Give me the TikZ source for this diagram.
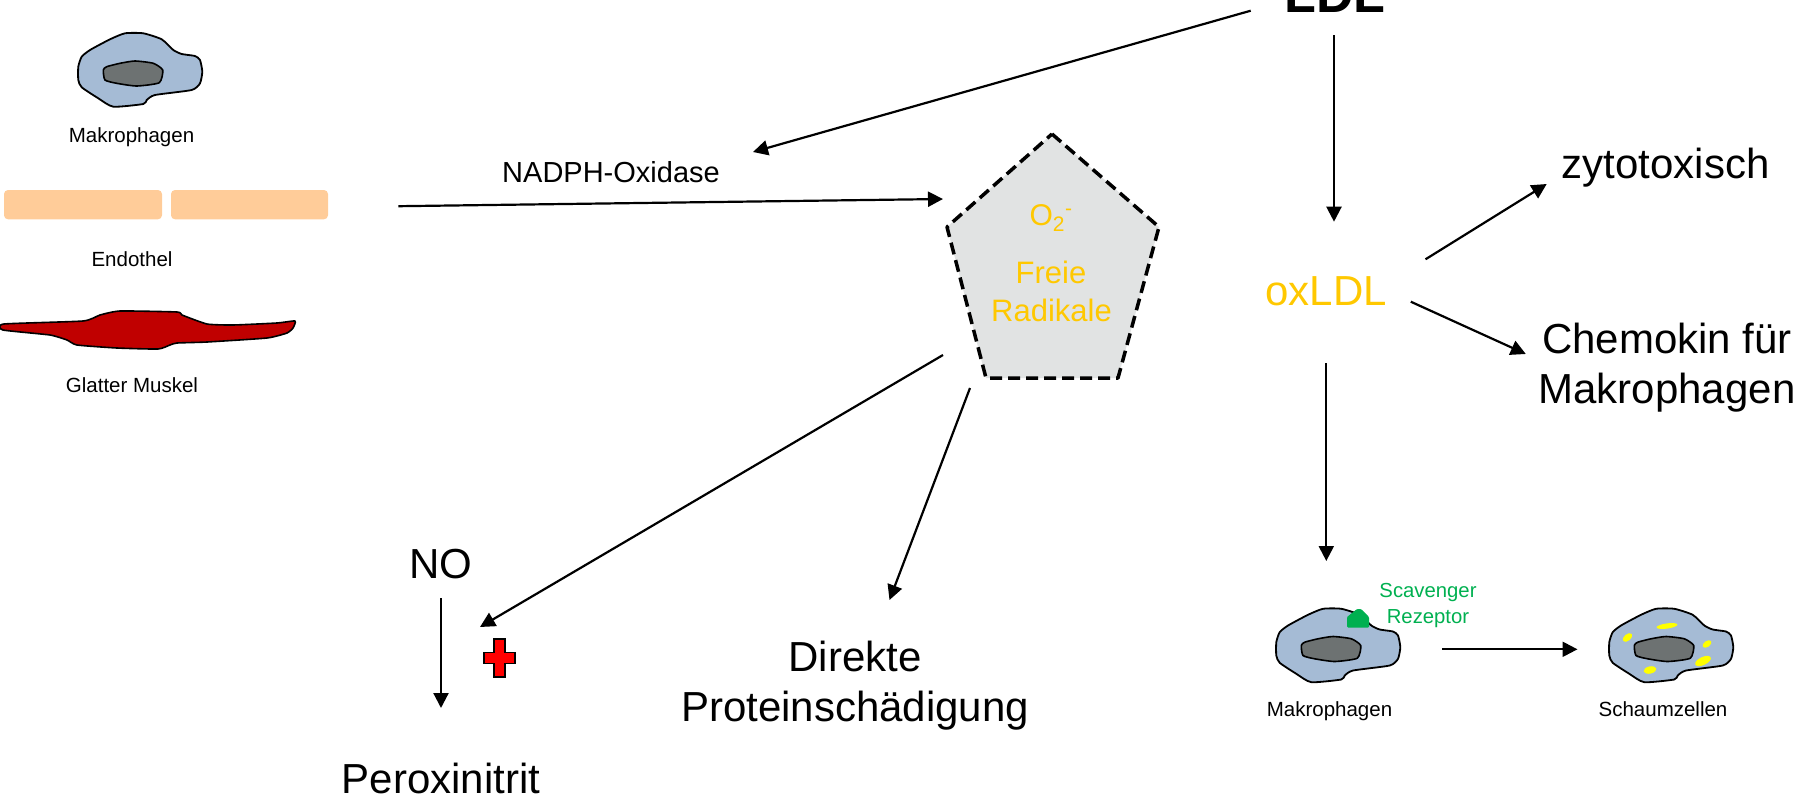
\documentclass[tikz,border=0pt]{standalone}
\usepackage{fontspec}
\setmainfont{Liberation Sans}
\usetikzlibrary{arrows.meta}
\definecolor{cellblue}{HTML}{A5BBD5}
\definecolor{nucgray}{HTML}{6D7272}
\definecolor{peach}{HTML}{FFCC99}
\definecolor{musclered}{HTML}{C00000}
\definecolor{radgray}{HTML}{E1E3E3}
\definecolor{oxgold}{HTML}{FFC800}
\definecolor{recgreen}{HTML}{00B050}
\definecolor{lipid}{HTML}{FFFF00}
\tikzset{
  cell/.pic={
    \filldraw[fill=cellblue, line width=1.8pt, line join=round]
      plot[smooth cycle, tension=0.35] coordinates {
        (-61.7,-3.3) (-58.3,-13.3) (-50,-20) (-30,-30.7) (-15,-36.7) (3.3,-36.7)
        (21.7,-30.7) (33.3,-20) (41.7,-16) (55,-14) (60,-10) (62.3,1.7) (60,13.3)
        (51.7,20) (15,25) (6.7,30) (3.3,34) (-26.7,36.7) (-41.7,28.3) (-58.3,17.3)
        (-61.7,10)};
    \filldraw[fill=nucgray, line width=1.6pt, line join=round]
      plot[smooth cycle, tension=0.35] coordinates {
        (-36.7,0) (-33.3,-3.3) (-20,-6.7) (-5,-9) (13.3,-6.7) (22.7,0) (19.3,12.7)
        (-3.3,16) (-23.3,13.3) (-35,10)};
  }
}
\begin{document}
\begin{tikzpicture}[x=1pt, y=-1pt,
  conn/.style={line width=2.2pt, -{Triangle[length=15pt, width=15pt]}},
  bigtext/.style={font=\fontsize{42}{50}\selectfont, inner sep=0pt, anchor=base},
  smalltext/.style={font=\fontsize{20.5}{24}\selectfont, inner sep=0pt, anchor=base},
  radtext/.style={font=\fontsize{31}{38}\selectfont, text=oxgold, inner sep=0pt, anchor=base}]
\useasboundingbox (0,0) rectangle (1816,801);

% ---- cell types on the left ----
\pic at (140,70) {cell};
\node[smalltext] (makroA) at (131.5,142) {Makrophagen};

\fill[peach, rounded corners=4pt] (4,190) rectangle (162,219.3);
\fill[peach, rounded corners=4pt] (171,190) rectangle (328,219.3);
\node[smalltext] (endo) at (132,266.7) {Endothel};

\filldraw[fill=musclered, line width=1.6pt, line join=round]
  plot[smooth cycle, tension=0.3] coordinates {
    (3,330) (4,324) (83,321) (100,315) (120,311) (177,312) (182,315) (207,324)
    (233,325) (277,323) (295,321) (293,328) (287,333) (267,338) (207,342)
    (177,343) (170,345) (158,349) (117,348) (77,345) (67,340) (50,335)};
\node[smalltext] (muskel) at (132,392.7) {Glatter Muskel};

% ---- LDL ----
\node[font=\bfseries\fontsize{52}{60}\selectfont, inner sep=0pt, anchor=base] (ldl) at (1335,12) {LDL};
\node[font=\fontsize{29}{34}\selectfont, inner sep=0pt, anchor=base] (nadph) at (611,182) {NADPH-Oxidase};

% ---- free radicals ----
\coordinate (pT) at (1052,134);
\coordinate (pR) at (1159,227);
\coordinate (pBR) at (1118,378);
\coordinate (pBL) at (986,378);
\coordinate (pL) at (947,227);
\filldraw[fill=radgray, line width=3.5pt, dash pattern=on 12pt off 6pt, line join=round]
  (pT) -- (pR) -- (pBR) -- (pBL) -- (pL) -- cycle;
\node[radtext, font=\fontsize{30}{36}\selectfont] (o2) at (1051,225) {O\textsubscript{2}\textsuperscript{-}};
\node[radtext] (freie) at (1051,283.3) {Freie};
\node[radtext] (radikale) at (1051.5,321.7) {Radikale};

% ---- products ----
\node[bigtext] (no) at (441,578) {NO};
\node[bigtext] (peroxi) at (441,793) {Peroxinitrit};
\node[bigtext] (direkt) at (855,671) {\begin{tabular}[t]{@{}c@{}}Direkte\\Proteinschädigung\end{tabular}};
\filldraw[fill=red, line width=1.5pt]
  (494,639) -- (505,639) -- (505,652.5) -- (515,652.5) -- (515,663.5) -- (505,663.5)
  -- (505,677) -- (494,677) -- (494,663.5) -- (484,663.5) -- (484,652.5) -- (494,652.5) -- cycle;

\node[bigtext, text=oxgold] (oxldl) at (1326,305) {oxLDL};
\node[bigtext] (zyto) at (1665.5,178) {zytotoxisch};
\node[bigtext] (chemo) at (1667,353) {\begin{tabular}[t]{@{}c@{}}Chemokin für\\Makrophagen\end{tabular}};

% ---- foam cell formation ----
\pic at (1338,645.5) {cell};
\fill[recgreen, rounded corners=1pt]
  (1347,627.5) -- (1347,617) -- (1357,609) -- (1361,609) -- (1369,617) -- (1369,627.5) -- cycle;
\node[smalltext, text=recgreen, font=\fontsize{20.3}{26}\selectfont] (scav) at (1428,597)
  {\begin{tabular}[t]{@{}c@{}}Scavenger\\Rezeptor\end{tabular}};
\node[smalltext] (makroB) at (1329.5,716.7) {Makrophagen};

\pic at (1671,645.5) {cell};
\fill[lipid] (1667,626) ellipse [x radius=10.5, y radius=2.6, rotate=8];
\fill[lipid] (1627.5,637.5) ellipse [x radius=5.5, y radius=3.3, rotate=40];
\fill[lipid] (1707,644) ellipse [x radius=5, y radius=3, rotate=35];
\fill[lipid] (1703,661) ellipse [x radius=8.5, y radius=4, rotate=25];
\fill[lipid] (1650,670) ellipse [x radius=6.5, y radius=3.6, rotate=12];
\node[smalltext] (schaum) at (1663,716.7) {Schaumzellen};

% ---- connector end points ----
\coordinate (ldlW) at (1250.7,10.7);
\coordinate (nadphTip) at (753,152);
\coordinate (ldlS) at (1334,35);
\coordinate (oxN) at (1334,221.7);
\coordinate (endoE) at (398.4,206.2);
\coordinate (radW) at (943,199);
\coordinate (radSW) at (943,355);
\coordinate (noTip) at (480,627);
\coordinate (radS) at (970,388);
\coordinate (protTip) at (889.5,600);
\coordinate (noS) at (441,598);
\coordinate (peroxTip) at (441,708);
\coordinate (oxNE) at (1425.5,259.3);
\coordinate (zytoTip) at (1546.7,184);
\coordinate (oxE) at (1410.8,301.7);
\coordinate (chemoTip) at (1525.8,354);
\coordinate (oxS) at (1326.3,363);
\coordinate (makroTip) at (1326.3,561);
\coordinate (makroE) at (1442,649.3);
\coordinate (schaumTip) at (1577.5,649.3);

% ---- connectors ----
\draw[conn] (ldlW) -- (nadphTip);
\draw[conn] (ldlS) -- (oxN);
\draw[conn] (endoE) -- (radW);
\draw[conn] (radSW) -- (noTip);
\draw[conn] (radS) -- (protTip);
\draw[conn] (noS) -- (peroxTip);
\draw[conn] (oxNE) -- (zytoTip);
\draw[conn] (oxE) -- (chemoTip);
\draw[conn] (oxS) -- (makroTip);
\draw[conn] (makroE) -- (schaumTip);
\end{tikzpicture}
\end{document}
